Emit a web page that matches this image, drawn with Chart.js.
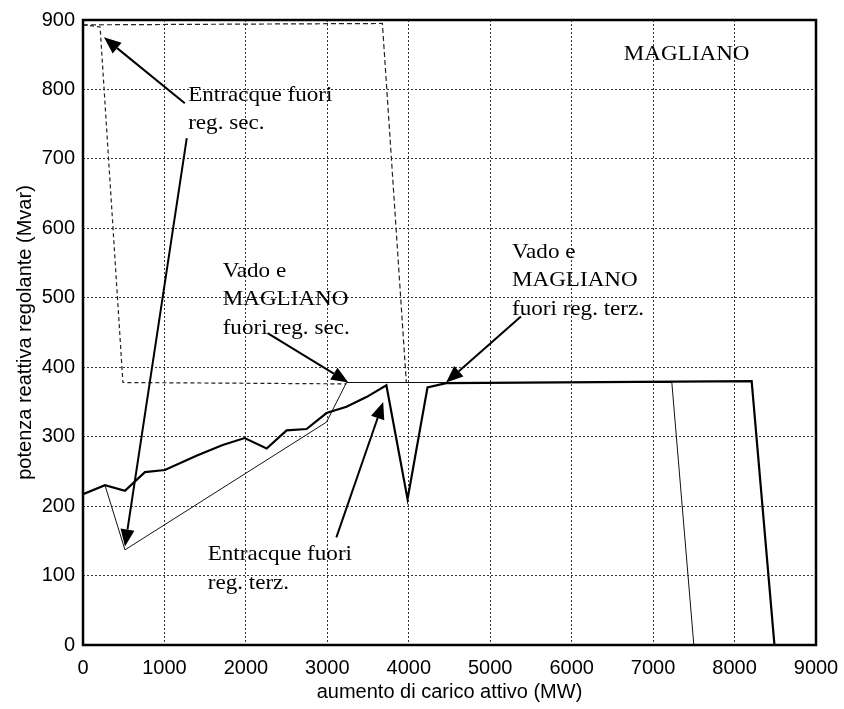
<!DOCTYPE html>
<html><head><meta charset="utf-8">
<script src="https://cdn.jsdelivr.net/npm/chart.js@4.4.0/dist/chart.umd.min.js"></script>
<style>html,body{margin:0;padding:0;background:#fff}</style>
</head><body>
<canvas id="c" width="844" height="709"></canvas>
<script>
// ---- data (MW, Mvar) ----
const mainX = [0, 270, 515, 760, 1005, 1400, 1715, 1985, 2255, 2500, 2745, 2990, 3235, 3480, 3725, 3985, 4230, 4460, 8210, 8490, 9000];
const mainY = [217, 230, 222, 249, 252, 273, 288, 298, 283, 309, 311, 334, 343, 357, 374, 210, 371, 377, 380, 0, 0];
const terzX = [270, 515, 2990, 3235, 7230, 7500, 8490];
const terzY = [230, 137, 321, 378, 378, 0, 0];
const secAX = [0, 3676, 3970];
const secAY = [893, 895, 378];
const secBX = [0, 210, 490, 3235];
const secBY = [893, 890, 378, 376];
const xTickStep = 1000;
const yTickStep = 100;
const xTitle = 'aumento di carico attivo (MW)';
const yTitle = 'potenza reattiva regolante (Mvar)';

// annotation texts
const labelEntrSec = ['Entracque fuori', 'reg. sec.'];
const labelVadoSec = ['Vado e', 'MAGLIANO', 'fuori reg. sec.'];
const labelVadoTerz = ['Vado e', 'MAGLIANO', 'fuori reg. terz.'];
const labelEntrTerz = ['Entracque fuori', 'reg. terz.'];
const labelTitle = ['MAGLIANO'];

const pts = (xs, ys) => xs.map((v, i) => ({x: v, y: ys[i]}));

// annotation placement (data units)
const texts = [
  {lines: labelEntrSec, at: [1291, 784]},
  {lines: labelVadoSec, at: [1715, 530]},
  {lines: labelVadoTerz, at: [5267, 558]},
  {lines: labelEntrTerz, at: [1531, 122]},
  {lines: labelTitle, at: [6640, 843]}
];
const arrows = [
  {from: [1250, 780], to: [257, 875]},
  {from: [1274, 730], to: [515, 142]},
  {from: [2266, 449], to: [3258, 378]},
  {from: [5377, 473], to: [4458, 378]},
  {from: [3111, 155], to: [3686, 350]}
];

const annot = {
  id: 'annot',
  afterDatasetsDraw(chart) {
    const {ctx, chartArea: a, scales: {x, y}} = chart;
    ctx.save();
    ctx.strokeStyle = '#000';
    ctx.setLineDash([]);
    ctx.lineWidth = 2.5;
    ctx.strokeRect(a.left, a.top, a.right - a.left, a.bottom - a.top);
    ctx.fillStyle = '#000';
    ctx.lineWidth = 2;
    arrows.forEach(ar => {
      const x1 = x.getPixelForValue(ar.from[0]), y1 = y.getPixelForValue(ar.from[1]);
      const x2 = x.getPixelForValue(ar.to[0]), y2 = y.getPixelForValue(ar.to[1]);
      const ang = Math.atan2(y2 - y1, x2 - x1);
      const L = 17, W = 7;
      const bx = x2 - L * Math.cos(ang), by = y2 - L * Math.sin(ang);
      ctx.beginPath(); ctx.moveTo(x1, y1); ctx.lineTo(bx, by); ctx.stroke();
      ctx.beginPath();
      ctx.moveTo(x2, y2);
      ctx.lineTo(bx + W * Math.sin(ang), by - W * Math.cos(ang));
      ctx.lineTo(bx - W * Math.sin(ang), by + W * Math.cos(ang));
      ctx.closePath(); ctx.fill();
    });
    ctx.font = '21px "Liberation Serif", "Times New Roman", serif';
    ctx.textBaseline = 'alphabetic';
    ctx.textAlign = 'left';
    texts.forEach(t => {
      const px = x.getPixelForValue(t.at[0]), py = y.getPixelForValue(t.at[1]);
      t.lines.forEach((s, i) => {
        ctx.save();
        ctx.translate(px, py + i * 28.5);
        ctx.scale(1.1, 1);
        ctx.fillText(s, 0, 0);
        ctx.restore();
      });
    });
    ctx.restore();
  }
};

const tickFont = {family: '"Liberation Sans Narrow", "Liberation Sans", Arial, sans-serif', size: 20};
const titleFont = {family: '"Liberation Sans", Arial, sans-serif', size: 20};

new Chart(document.getElementById('c'), {
  type: 'line',
  data: {
    datasets: [
      {data: pts(mainX, mainY), borderColor: '#000', borderWidth: 2.2, pointRadius: 0, tension: 0, fill: false},
      {data: pts(terzX, terzY), borderColor: '#111', borderWidth: 1, pointRadius: 0, tension: 0, fill: false},
      {data: pts(secAX, secAY), borderColor: '#222', borderWidth: 1.2, borderDash: [5, 3], pointRadius: 0, tension: 0, fill: false},
      {data: pts(secBX, secBY), borderColor: '#222', borderWidth: 1.2, borderDash: [4, 3], pointRadius: 0, tension: 0, fill: false}
    ]
  },
  options: {
    responsive: false,
    animation: false,
    devicePixelRatio: 1,
    layout: {padding: {left: 0, right: 28, top: 20, bottom: 0}},
    plugins: {legend: {display: false}, tooltip: {enabled: false}},
    scales: {
      x: {
        type: 'linear', min: 0, max: 9000,
        afterFit(s) { s.height = 64; s.paddingRight = 0; s.paddingLeft = 0; },
        ticks: {stepSize: xTickStep, color: '#000', font: tickFont, padding: 11, maxRotation: 0, callback: v => String(v)},
        grid: {color: '#333', lineWidth: 1, drawTicks: false},
        border: {display: false, dash: [2, 2]},
        title: {display: true, text: xTitle, color: '#000', font: titleFont, padding: {top: 0, bottom: 5}}
      },
      y: {
        type: 'linear', min: 0, max: 900,
        afterFit(s) { s.width = 83; s.paddingTop = 0; s.paddingBottom = 0; },
        ticks: {stepSize: yTickStep, color: '#000', font: tickFont, padding: 8, callback: v => String(v)},
        grid: {color: '#333', lineWidth: 1, drawTicks: false},
        border: {display: false, dash: [2, 2]},
        title: {display: true, text: yTitle, color: '#000', font: titleFont, padding: {top: 13, bottom: 0}}
      }
    }
  },
  plugins: [annot]
});
</script>
</body></html>
